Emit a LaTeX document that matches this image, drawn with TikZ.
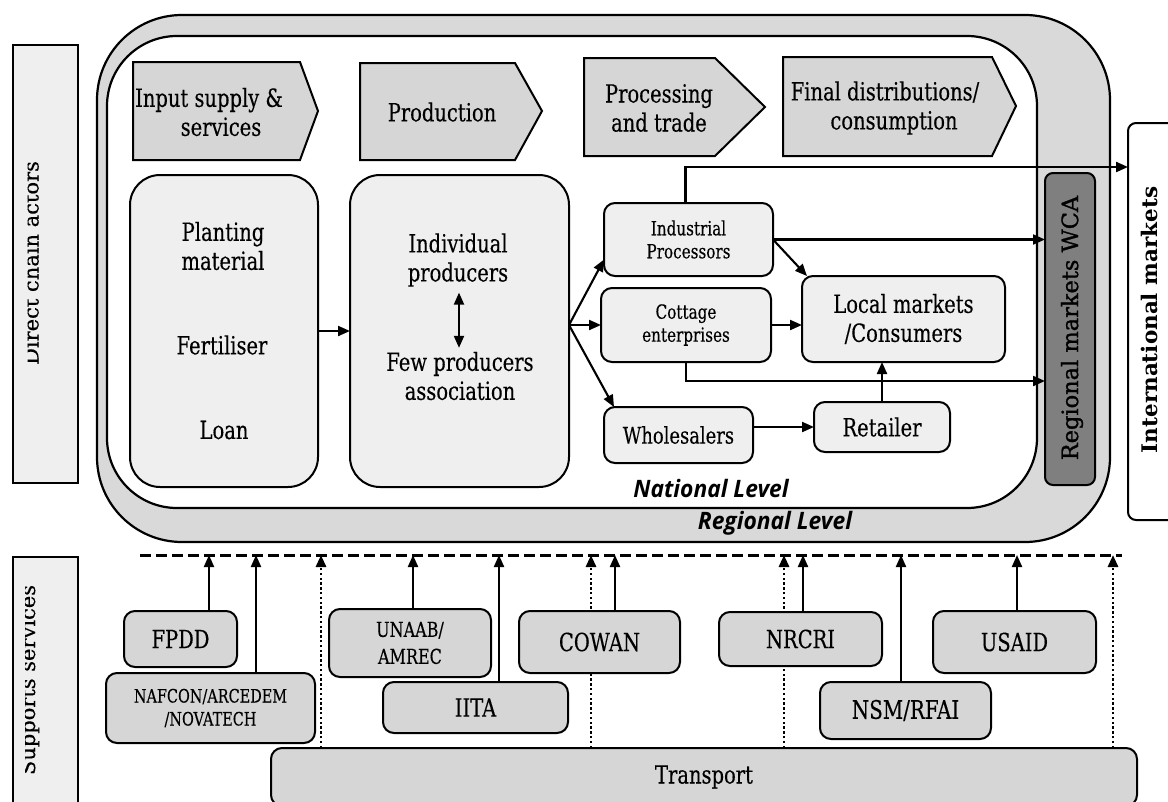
\documentclass[tikz,border=0pt]{standalone}
\usepackage{fontspec}
\usepackage{graphicx}
\setmainfont{DejaVu Serif}[FakeStretch=0.78, FakeBold=0.3]
\newfontfamily\rotfont{DejaVu Serif}[FakeBold=0.3]
\newfontfamily\regfont{DejaVu Serif}[FakeBold=1.2]
\newfontfamily\intlfont{DejaVu Serif}
\newfontfamily\lvlfont{Open Sans}[FakeStretch=0.95]
\usetikzlibrary{arrows.meta,calc}
\definecolor{bandgray}{HTML}{D9D9D9}
\definecolor{boxlight}{HTML}{EFEFEF}
\definecolor{chevgray}{HTML}{D6D6D6}
\definecolor{darkbox}{HTML}{7F7F7F}
\tikzset{
  every node/.style={inner sep=0pt, outer sep=0pt},
  outerframe/.style={draw=black, line width=2.2pt, fill=bandgray, rounded corners=85pt},
  innerframe/.style={draw=black, line width=2.2pt, fill=white, rounded corners=70pt},
  chev/.style={draw=black, line width=2pt, fill=chevgray, line join=miter},
  bigbox/.style={draw=black, line width=2pt, fill=boxlight, rounded corners=30pt},
  smallbox/.style={draw=black, line width=2pt, fill=boxlight, rounded corners=11pt},
  supbox/.style={draw=black, line width=2pt, fill=chevgray, rounded corners=11pt},
  sidebox/.style={draw=black, line width=2pt, fill=boxlight},
  maintext/.style={font=\fontsize{25}{29}\selectfont, align=center},
  midtext/.style={font=\fontsize{19.5}{23}\selectfont, align=center},
  arr/.style={line width=2.1pt, -{Triangle[length=12pt,width=10pt]}},
  dblarr/.style={line width=2pt, {Triangle[length=12pt,width=10pt]}-{Triangle[length=12pt,width=10pt]}},
  dotarr/.style={line width=2.8pt, dash pattern=on 2.4pt off 2.4pt, -{Triangle[length=12pt,width=10pt]}},
  dashline/.style={line width=3pt, dash pattern=on 11pt off 5pt},
  lvltext/.style={font=\lvlfont\bfseries\itshape\fontsize{24}{28}\selectfont},
}
\begin{document}
\begin{tikzpicture}[x=1pt,y=-1pt]
\path[use as bounding box] (0,0) rectangle (1168,801);
\clip (0,0) rectangle (1168,801);
\fill[white] (0,0) rectangle (1168,801);

% side label boxes
\node[sidebox, minimum width=65pt, minimum height=438pt] (dcbox) at (45.5,264) {};
\node[sidebox, minimum width=65pt, minimum height=286pt] (ssbox) at (45.5,700) {};
\begin{scope}
\clip (27.5,0) rectangle (76,540);
\node[rotate=90, anchor=base, text=black, font=\rotfont\fontsize{21}{24}\selectfont] (dctext) at (38.5,263) {Direct chain actors};
\end{scope}
\begin{scope}
\clip (25,540) rectangle (76,801);
\node[rotate=90, anchor=base, text=black, font=\rotfont\fontsize{21}{24}\selectfont] (sstext) at (35,680) {Supports services};
\end{scope}

% international markets
\node[draw=black, line width=2pt, fill=white, rounded corners=8pt, minimum width=64pt, minimum height=397pt] (intl) at (1160,321.5) {};
\node[rotate=90, text=black, font=\intlfont\bfseries\fontsize{21.5}{24}\selectfont] (intltext) at (1149,320) {International markets};

% frames
\draw[outerframe] (97,15) rectangle (1110,542);
\draw[innerframe] (107,36) rectangle (1037,508);

% regional markets
\node[draw=black, line width=2pt, fill=darkbox, rounded corners=8pt, minimum width=50pt, minimum height=312pt] (reg) at (1070,329) {};
\node[rotate=90, text=black, font=\regfont\fontsize{22.5}{26}\selectfont] (regtext) at (1072,328) {Regional markets WCA};

% chevrons
\draw[chev] (133,62) -- (300,62) -- (318,111) -- (300,160) -- (133,160) -- cycle;
\draw[chev] (360,63) -- (515,63) -- (542,111) -- (515,160) -- (360,160) -- cycle;
\draw[chev] (584,58) -- (715,58) -- (765,107) -- (715,156) -- (584,156) -- cycle;
\draw[chev] (783,57) -- (992,57) -- (1016,106) -- (992,156) -- (783,156) -- cycle;
\node[maintext] (c1) at (209,112) {Input supply \&\\\hspace*{24pt}services};
\node[maintext] (c2) at (442,112) {Production};
\node[maintext] (c3) at (659,108) {Processing\\and trade};
\node[maintext] (c4) at (885,108) {Final distributions/\\\hspace*{18pt}consumption};

% big boxes
\node[bigbox, minimum width=188pt, minimum height=312pt] (plant) at (224,331) {};
\node[maintext] (t1) at (223,246) {Planting\\material};
\node[maintext] (t2) at (222,345) {Fertiliser};
\node[maintext] (t3) at (224,430) {Loan};
\node[bigbox, minimum width=219pt, minimum height=312pt] (prod) at (459.5,331) {};
\node[maintext] (indiv) at (458,260) {Individual\\producers};
\node[maintext] (few) at (460,376) {Few producers\\association};
\draw[dblarr] ($(indiv.south)+(1,6)$) -- ($(indiv.south |- few.north)+(1,-4)$);

% right side boxes
\node[smallbox, midtext, minimum width=169pt, minimum height=73pt] (ind) at (688.5,239.5) {Industrial\\Processors};
\node[smallbox, midtext, minimum width=170pt, minimum height=74pt] (cot) at (686,325) {Cottage\\enterprises};
\node[smallbox, maintext, minimum width=203pt, minimum height=86pt] (loc) at (903.5,319) {Local markets\\/Consumers};
\node[smallbox, font=\fontsize{23}{27}\selectfont, minimum width=149pt, minimum height=56pt] (whole) at (678.5,435) {Wholesalers\hspace{16pt}};
\node[smallbox, maintext, minimum width=136pt, minimum height=50pt] (ret) at (882,427) {Retailer};

% connectors
\draw[arr] (plant.east) -- (prod.east -| prod.west);
\coordinate (fan) at (prod.east |- cot.west);
\draw[arr] (fan) -- ([yshift=-20pt]ind.west);
\draw[arr] (fan) -- (cot.west);
\draw[arr] (fan) -- ([xshift=10pt]whole.north west);
\draw[arr] (ind.east) -- (ind.east -| reg.west);
\draw[arr] (ind.east) -- ([xshift=5pt]loc.north west);
\draw[arr] (cot.east) -- (cot.east -| loc.west);
\draw[arr] (cot.south) |- ([yshift=-52pt]reg.west);
\draw[arr] (whole.east |- ret.west) -- (ret.west);
\draw[arr] (ret.north) -- (ret.north |- loc.south);
\draw[arr] ([xshift=-3pt]ind.north) |- ([yshift=154.5pt]intl.west);

% level labels
\node[lvltext] (natl) at (711,488) {National Level};
\node[lvltext] (regl) at (775,523) {Regional Level};

% support services
\node[supbox, maintext, minimum width=866pt, minimum height=58pt] (trans) at (704,777) {Transport};
\coordinate (dl) at (140,555);
\coordinate (dr) at (1122,555);
\foreach \n/\x in {a1/209, a2/256, d1/321, a3/413, a4/499, d2/591, a5/615, d3/784, a6/803, a7/901, a8/1017, d4/1113}
  \coordinate (\n) at (\x,555);
\foreach \d in {d1,d2,d3,d4}
  \draw[dotarr] (\d |- trans.north) -- (\d);

\node[supbox, maintext, minimum width=113pt, minimum height=56pt] (fpdd) at (180.5,639) {FPDD};
\node[supbox, font=\fontsize{18.5}{23}\selectfont, align=center, minimum width=209pt, minimum height=70pt] (nafcon) at (210.5,708) {NAFCON/ARCEDEM\\/NOVATECH};
\node[supbox, font=\fontsize{20.5}{27}\selectfont, align=center, minimum width=162pt, minimum height=68pt] (unaab) at (410,643) {UNAAB/\\AMREC};
\node[supbox, maintext, minimum width=185pt, minimum height=51pt] (iita) at (475.5,707.5) {IITA};
\node[supbox, maintext, minimum width=161pt, minimum height=62pt] (cowan) at (599.5,642) {COWAN};
\node[supbox, maintext, minimum width=163pt, minimum height=54pt] (nrcri) at (800.5,639) {NRCRI};
\node[supbox, maintext, minimum width=163pt, minimum height=62pt] (usaid) at (1014.5,642) {USAID};
\node[supbox, font=\fontsize{25.5}{29}\selectfont, minimum width=171pt, minimum height=57pt] (nsm) at (905.5,710.5) {NSM/RFAI};

\draw[arr] (a1 |- fpdd.north) -- (a1);
\draw[arr] (a2 |- nafcon.north) -- (a2);
\draw[arr] (a3 |- unaab.north) -- (a3);
\draw[arr] (a4 |- iita.north) -- (a4);
\draw[arr] (a5 |- cowan.north) -- (a5);
\draw[arr] (a6 |- nrcri.north) -- (a6);
\draw[arr] (a7 |- nsm.north) -- (a7);
\draw[arr] (a8 |- usaid.north) -- (a8);
\draw[dashline] (dl) -- (dr);
\end{tikzpicture}
\end{document}
